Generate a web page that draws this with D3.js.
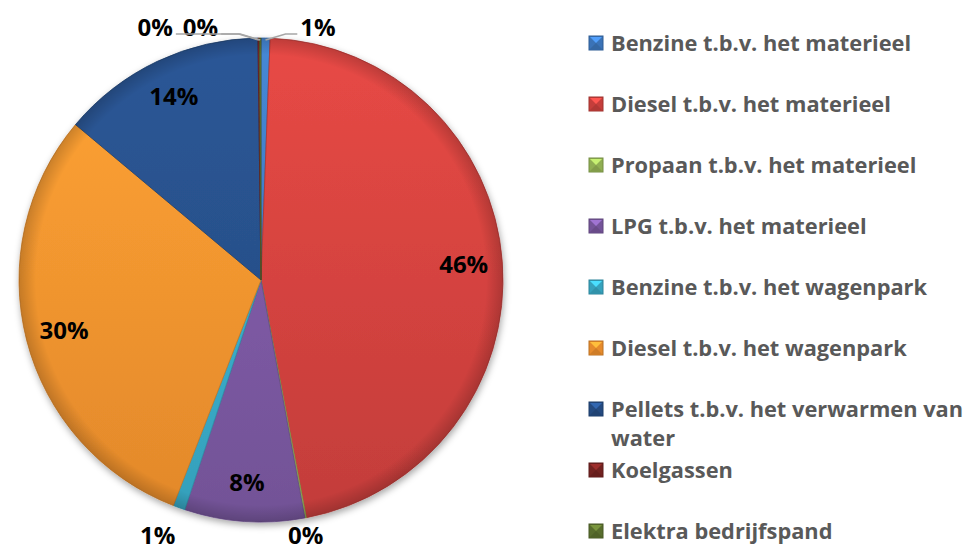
<!DOCTYPE html>
<html>
<head>
<meta charset="utf-8">
<script src="https://cdn.jsdelivr.net/npm/d3@7"></script>
<style>
  body { margin: 0; background: #fff; }
  svg text { font-family: "Open Sans", Lato, sans-serif; font-weight: bold; }
</style>
</head>
<body>
<div id="chart"></div>
<script>
// categories / values (percentages)
var categories = [
    "Benzine t.b.v. het materieel",
    "Diesel t.b.v. het materieel",
    "Propaan t.b.v. het materieel",
    "LPG t.b.v. het materieel",
    "Benzine t.b.v. het wagenpark",
    "Diesel t.b.v. het wagenpark",
    "Pellets t.b.v. het verwarmen van water",
    "Koelgassen",
    "Elektra bedrijfspand"
];
var values = [0.6, 46.4, 0.1, 8.0, 0.8, 30.2, 13.7, 0.1, 0.1];
var labels = ["1%", "46%", "0%", "8%", "1%", "30%", "14%", "0%", "0%"];
var colors = ["#3f7cc4", "#d4433f", "#9bbb59", "#7d5aa4", "#3aaecb",
              "#f7952f", "#27508a", "#7a2422", "#5f7530"];

var svgWidth = 973, svgHeight = 551;
var cx = 261, cy = 280, radius = 242;

var svg = d3.select("#chart").append("svg")
    .attr("width", svgWidth)
    .attr("height", svgHeight);

var defs = svg.append("defs");

var shadow = defs.append("filter").attr("id", "shadow")
    .attr("x", "-10%").attr("y", "-10%").attr("width", "125%").attr("height", "125%");
shadow.append("feDropShadow")
    .attr("dx", 1).attr("dy", 3).attr("stdDeviation", 3.5)
    .attr("flood-color", "#000").attr("flood-opacity", 0.35);

// gradients live in the pie group's coords (centre at 0,0)
colors.forEach(function(c, i) {
    var g = defs.append("linearGradient")
        .attr("id", "grad" + i)
        .attr("gradientUnits", "userSpaceOnUse")
        .attr("x1", 0).attr("y1", -radius)
        .attr("x2", 0).attr("y2", radius);
    g.append("stop").attr("offset", "0%").attr("stop-color", d3.color(c).brighter(0.25));
    g.append("stop").attr("offset", "100%").attr("stop-color", d3.color(c).darker(0.25));
});

// darkening towards the rim, a bit like Excel's bevel
var rim = defs.append("radialGradient").attr("id", "rim")
    .attr("gradientUnits", "userSpaceOnUse")
    .attr("cx", 0).attr("cy", 0).attr("r", radius);
rim.append("stop").attr("offset", "0%").attr("stop-color", "#000").attr("stop-opacity", 0);
rim.append("stop").attr("offset", "93%").attr("stop-color", "#000").attr("stop-opacity", 0);
rim.append("stop").attr("offset", "100%").attr("stop-color", "#000").attr("stop-opacity", 0.18);

var pie = d3.pie().sort(null).value(d => d);
var arcs = pie(values);

var arc = d3.arc().innerRadius(0).outerRadius(radius);
var labelArc = d3.arc().innerRadius(radius * 0.84).outerRadius(radius * 0.84);
var outerArc = d3.arc().innerRadius(radius + 22).outerRadius(radius + 22);
var edgeArc = d3.arc().innerRadius(radius - 2).outerRadius(radius - 2);

var pieG = svg.append("g")
    .attr("transform", `translate(${cx}, ${cy})`);

var sliceG = pieG.append("g").attr("filter", "url(#shadow)");

sliceG.selectAll("path.slice")
    .data(arcs)
    .enter()
    .append("path")
    .attr("class", "slice")
    .attr("d", arc)
    .attr("fill", (d, i) => "url(#grad" + i + ")")
    .attr("stroke", (d, i) => d3.color(colors[i]).darker(0.6))
    .attr("stroke-width", 0.8)
    .attr("stroke-linejoin", "round");

pieG.append("circle")
    .attr("r", radius)
    .attr("fill", "url(#rim)")
    .attr("pointer-events", "none");

// small slices get their label outside the pie (nudge from outer centroid)
var outside = { 0: [52, 11], 2: [-4, -4], 4: [-14, 7], 7: [-58, 11], 8: [-105, 11] };
var leaders = [0, 7, 8];

var labelG = pieG.append("g");

arcs.forEach(function(d, i) {
    var pos;
    if (outside[i]) {
        var c = outerArc.centroid(d);
        pos = [c[0] + outside[i][0], c[1] + outside[i][1]];
    } else {
        pos = labelArc.centroid(d);
    }
    var t = labelG.append("text")
        .attr("x", pos[0])
        .attr("y", pos[1])
        .attr("dy", "0.36em")
        .attr("text-anchor", "middle")
        .style("font-size", "24px")
        .attr("fill", "#000")
        .text(labels[i]);

    if (leaders.indexOf(i) >= 0) {
        var w = t.node().getComputedTextLength();
        var start = edgeArc.centroid(d);
        var side = pos[0] > start[0] ? 1 : -1;
        var endX = pos[0] - side * (w / 2 + 3);
        var lineY = pos[1] + 7;
        var elbowX = start[0] + side * 20;
        if (side < 0 && endX > elbowX) endX = elbowX;
        labelG.append("polyline")
            .attr("points", [[start[0], start[1]], [elbowX, lineY], [endX, lineY]].join(" "))
            .attr("fill", "none")
            .attr("stroke", "#a6a6a6")
            .attr("stroke-width", 1.6);
    }
});

// legend
var legendX = 589, legendTop = 43, legendStep = 61;
var legend = svg.append("g");

categories.forEach(function(name, i) {
    var y = legendTop + i * legendStep;
    var base = d3.color(colors[i]);
    var s = 14;
    var g = legend.append("g").attr("transform", `translate(${legendX}, ${y - s / 2})`);
    g.append("rect")
        .attr("width", s).attr("height", s)
        .attr("fill", base.darker(0.2))
        .attr("stroke", base.darker(0.8))
        .attr("stroke-width", 1);
    g.append("path")
        .attr("d", `M1,1 L${s - 1},1 L${s / 2},${s / 2} Z`)
        .attr("fill", base.brighter(0.7));
    g.append("path")
        .attr("d", `M1,${s - 1} L${s - 1},${s - 1} L${s / 2},${s / 2} Z`)
        .attr("fill", base.darker(0.5));

    var lines = [name];
    if (name.indexOf("verwarmen van water") >= 0) {
        lines = ["Pellets t.b.v. het verwarmen van", "water"];
    }
    var t = legend.append("text")
        .attr("y", y)
        .attr("fill", "#595959")
        .style("font-size", "21.8px");
    lines.forEach(function(l, k) {
        t.append("tspan")
            .attr("x", legendX + 22)
            .attr("dy", k === 0 ? "0.36em" : "29px")
            .text(l);
    });
});
</script>
</body>
</html>
